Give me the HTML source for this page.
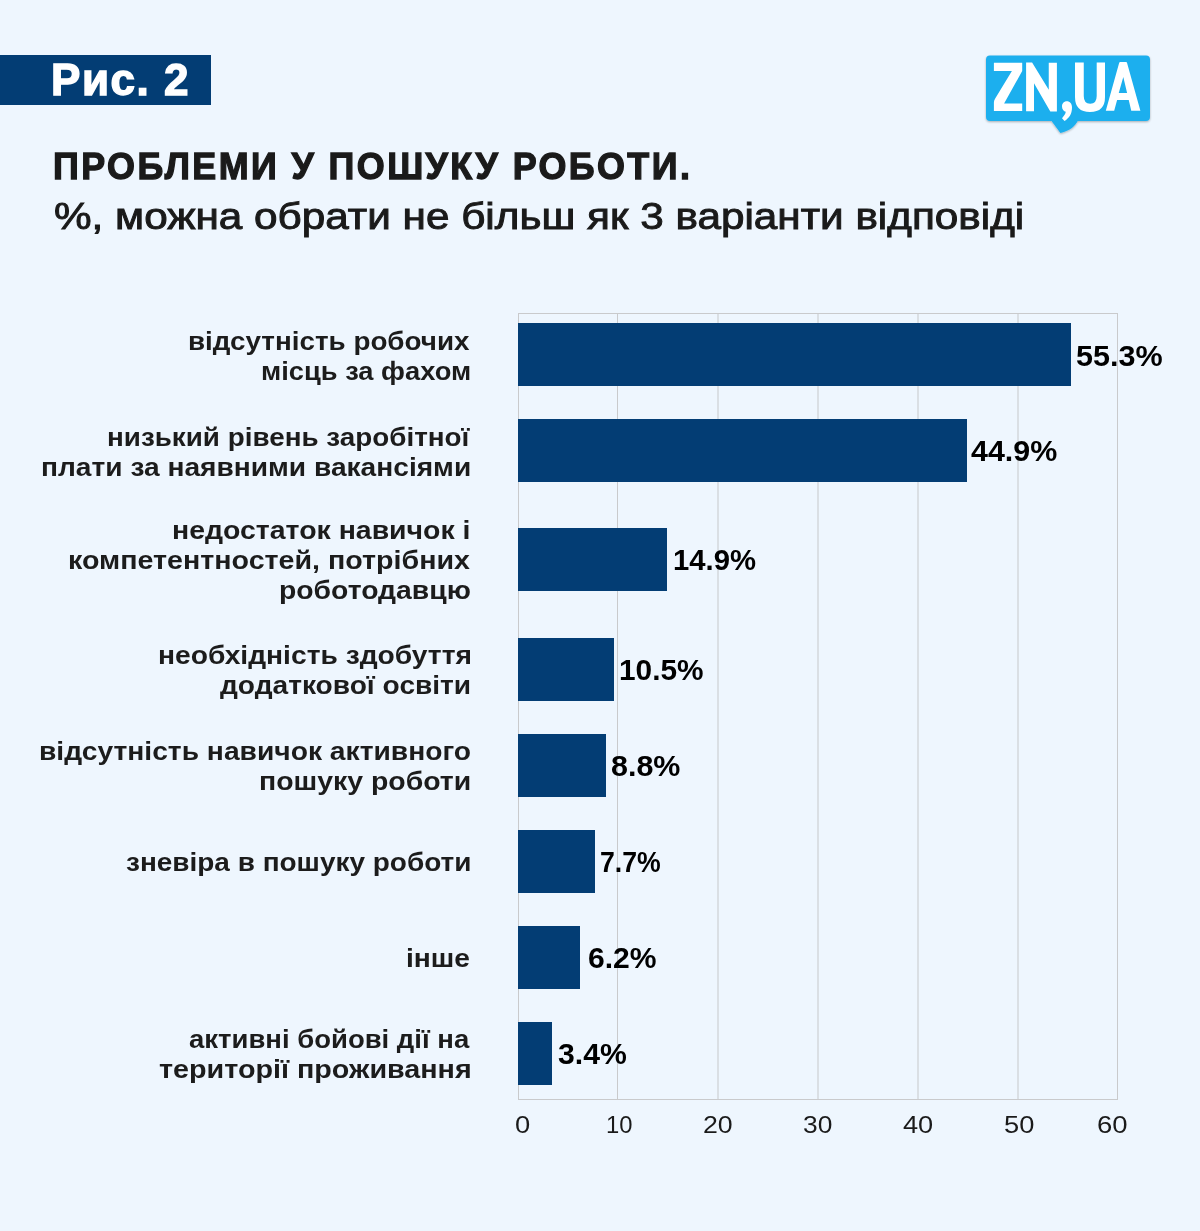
<!DOCTYPE html>
<html><head><meta charset="utf-8">
<style>
html,body{margin:0;padding:0;}
body{width:1200px;height:1231px;background:#EEF6FE;position:relative;overflow:hidden;font-family:"Liberation Sans",sans-serif;}
.g{position:absolute;}
.t{position:absolute;white-space:nowrap;transform-origin:0 0;}
</style></head>
<body>
<div class="g" style="left:0;top:55px;width:211px;height:50px;background:#033D74"></div>
<svg class="g" style="left:0;top:0" width="1200" height="150" viewBox="0 0 1200 150">
  <defs>
    <filter id="sh" x="-10%" y="-10%" width="120%" height="140%">
      <feGaussianBlur in="SourceAlpha" stdDeviation="1.3"/>
      <feOffset dx="0.3" dy="1.3" result="o"/>
      <feComponentTransfer><feFuncA type="linear" slope="0.3"/></feComponentTransfer>
      <feMerge><feMergeNode/><feMergeNode in="SourceGraphic"/></feMerge>
    </filter>
  </defs>
  <g filter="url(#sh)">
    <path fill="#1FAFEE" d="M990,55.5 H1146 Q1150,55.5 1150,59.5 V117 Q1150,121 1146,121 H1077.8 C1075.2,125.8 1070.5,130.6 1060.4,133 L1051.5,121 H990 Q986,121 986,117 V59.5 Q986,55.5 990,55.5 Z"/>
  </g>
  <g fill="#fff">
    <path d="M993.9,62.8 H1022.2 V71 L1004.1,103.5 H1022.2 V111 H993.9 V102.5 Q993.9,100.6 995.2,98.6 L1011.9,71 H993.9 Z"/>
    <path d="M1026.1,62.6 H1032.1 L1048.75,89.7 V62.8 H1056.9 V111.4 H1050.3 L1034,83.3 V111.2 H1026.1 Z"/>
    <path d="M1066.8,101.3 C1064,101.3 1062,103.5 1062,106.5 C1062,109.5 1063.8,111.2 1065.8,111.8 C1065.3,114.5 1063.5,116.5 1062,118.2 L1064.5,121 C1069,118.2 1072,114 1072,107.5 C1072,103.8 1070,101.3 1066.8,101.3 Z"/>
    <path d="M1075,62.5 H1083.75 V96 Q1083.75,103.75 1090.2,103.75 Q1096.7,103.75 1096.7,96 V62.5 H1105 V97 Q1105,112 1090,112 Q1075,112 1075,97 Z"/>
    <path fill-rule="evenodd" d="M1120.2,62 H1126.1 Q1126.8,62 1127,62.8 L1140.4,110.8 H1131.25 L1128.75,100 H1117.1 L1114.2,110.8 H1105.8 L1119.2,62.8 Q1119.5,62 1120.2,62 Z M1123.3,77.1 L1118.75,92.9 H1127.1 Z"/>
  </g>
</svg>
<div class="t" style="left:53.41px;top:144px;font-size:37.5px;line-height:45px;font-weight:bold;color:#1A1A1A;-webkit-text-stroke:1.3px #1A1A1A;letter-spacing:2.5px;transform:scaleX(0.9575)">ПРОБЛЕМИ У ПОШУКУ РОБОТИ.</div>
<div class="t" style="left:54.13px;top:195px;font-size:36px;line-height:43px;font-weight:normal;color:#1A1A1A;-webkit-text-stroke:0.9px #1A1A1A;letter-spacing:0px;transform:scaleX(1.1741)">%, можна обрати не більш як 3 варіанти відповіді</div>
<div class="t" style="left:50.95px;top:53px;font-size:44px;line-height:53px;font-weight:bold;color:#FFFFFF;-webkit-text-stroke:1.4px #FFFFFF;letter-spacing:1.5px;transform:scaleX(1.0012)">Рис. 2</div>
<div class="g" style="left:717px;top:313px;width:2px;height:787px;background:#DADFE4"></div>
<div class="g" style="left:817px;top:313px;width:2px;height:787px;background:#DADFE4"></div>
<div class="g" style="left:917px;top:313px;width:2px;height:787px;background:#DADFE4"></div>
<div class="g" style="left:1017px;top:313px;width:2px;height:787px;background:#DADFE4"></div>
<div class="g" style="left:518px;top:313px;width:1px;height:787px;background:#C9CACC"></div>
<div class="g" style="left:617px;top:313px;width:1px;height:787px;background:#C9CACC"></div>
<div class="g" style="left:1117px;top:313px;width:1px;height:787px;background:#C9CACC"></div>
<div class="g" style="left:518px;top:313px;width:600px;height:1px;background:#C9CACC"></div>
<div class="g" style="left:518px;top:1099px;width:600px;height:1px;background:#C9CACC"></div>
<div class="g" style="left:518px;top:323px;width:553px;height:63px;background:#033D74"></div>
<div class="g" style="left:518px;top:419px;width:449px;height:63px;background:#033D74"></div>
<div class="g" style="left:518px;top:528px;width:149px;height:63px;background:#033D74"></div>
<div class="g" style="left:518px;top:638px;width:96px;height:63px;background:#033D74"></div>
<div class="g" style="left:518px;top:734px;width:88px;height:63px;background:#033D74"></div>
<div class="g" style="left:518px;top:830px;width:77px;height:63px;background:#033D74"></div>
<div class="g" style="left:518px;top:926px;width:62px;height:63px;background:#033D74"></div>
<div class="g" style="left:518px;top:1022px;width:34px;height:63px;background:#033D74"></div>
<div class="t" style="left:188.15px;top:326px;font-size:25.5px;line-height:31px;font-weight:bold;color:#1C1C1C;letter-spacing:0px;transform:scaleX(1.0904)">відсутність робочих</div>
<div class="t" style="left:261.18px;top:356px;font-size:25.5px;line-height:31px;font-weight:bold;color:#1C1C1C;letter-spacing:0px;transform:scaleX(1.0708)">місць за фахом</div>
<div class="t" style="left:106.55px;top:422px;font-size:25.5px;line-height:31px;font-weight:bold;color:#1C1C1C;letter-spacing:0px;transform:scaleX(1.0911)">низький рівень заробітної</div>
<div class="t" style="left:41.12px;top:452px;font-size:25.5px;line-height:31px;font-weight:bold;color:#1C1C1C;letter-spacing:0px;transform:scaleX(1.1030)">плати за наявними вакансіями</div>
<div class="t" style="left:171.80px;top:515px;font-size:25.5px;line-height:31px;font-weight:bold;color:#1C1C1C;letter-spacing:0px;transform:scaleX(1.1151)">недостаток навичок і</div>
<div class="t" style="left:67.79px;top:545px;font-size:25.5px;line-height:31px;font-weight:bold;color:#1C1C1C;letter-spacing:0px;transform:scaleX(1.1221)">компетентностей, потрібних</div>
<div class="t" style="left:278.72px;top:575px;font-size:25.5px;line-height:31px;font-weight:bold;color:#1C1C1C;letter-spacing:0px;transform:scaleX(1.1107)">роботодавцю</div>
<div class="t" style="left:157.52px;top:640px;font-size:25.5px;line-height:31px;font-weight:bold;color:#1C1C1C;letter-spacing:0px;transform:scaleX(1.1060)">необхідність здобуття</div>
<div class="t" style="left:220.19px;top:670px;font-size:25.5px;line-height:31px;font-weight:bold;color:#1C1C1C;letter-spacing:0px;transform:scaleX(1.1025)">додаткової освіти</div>
<div class="t" style="left:38.52px;top:736px;font-size:25.5px;line-height:31px;font-weight:bold;color:#1C1C1C;letter-spacing:0px;transform:scaleX(1.1065)">відсутність навичок активного</div>
<div class="t" style="left:259.11px;top:766px;font-size:25.5px;line-height:31px;font-weight:bold;color:#1C1C1C;letter-spacing:0px;transform:scaleX(1.1145)">пошуку роботи</div>
<div class="t" style="left:125.84px;top:847px;font-size:25.5px;line-height:31px;font-weight:bold;color:#1C1C1C;letter-spacing:0px;transform:scaleX(1.0965)">зневіра в пошуку роботи</div>
<div class="t" style="left:406.02px;top:943px;font-size:25.5px;line-height:31px;font-weight:bold;color:#1C1C1C;letter-spacing:0px;transform:scaleX(1.1057)">інше</div>
<div class="t" style="left:189.05px;top:1024px;font-size:25.5px;line-height:31px;font-weight:bold;color:#1C1C1C;letter-spacing:0px;transform:scaleX(1.0782)">активні бойові дії на</div>
<div class="t" style="left:158.81px;top:1054px;font-size:25.5px;line-height:31px;font-weight:bold;color:#1C1C1C;letter-spacing:0px;transform:scaleX(1.1258)">території проживання</div>
<div class="t" style="left:1076.32px;top:338px;font-size:30px;line-height:36px;font-weight:bold;color:#000000;letter-spacing:0px;transform:scaleX(1.0182)">55.3%</div>
<div class="t" style="left:970.90px;top:433px;font-size:30px;line-height:36px;font-weight:bold;color:#000000;letter-spacing:0px;transform:scaleX(1.0137)">44.9%</div>
<div class="t" style="left:672.87px;top:542px;font-size:30px;line-height:36px;font-weight:bold;color:#000000;letter-spacing:0px;transform:scaleX(0.9751)">14.9%</div>
<div class="t" style="left:618.74px;top:652px;font-size:30px;line-height:36px;font-weight:bold;color:#000000;letter-spacing:0px;transform:scaleX(0.9932)">10.5%</div>
<div class="t" style="left:610.85px;top:748px;font-size:30px;line-height:36px;font-weight:bold;color:#000000;letter-spacing:0px;transform:scaleX(1.0147)">8.8%</div>
<div class="t" style="left:600.37px;top:844px;font-size:30px;line-height:36px;font-weight:bold;color:#000000;letter-spacing:0px;transform:scaleX(0.8878)">7.7%</div>
<div class="t" style="left:587.56px;top:940px;font-size:30px;line-height:36px;font-weight:bold;color:#000000;letter-spacing:0px;transform:scaleX(1.0027)">6.2%</div>
<div class="t" style="left:558.13px;top:1036px;font-size:30px;line-height:36px;font-weight:bold;color:#000000;letter-spacing:0px;transform:scaleX(1.0061)">3.4%</div>
<div class="t" style="left:515.45px;top:1111px;font-size:23px;line-height:28px;font-weight:normal;color:#1A1A1A;letter-spacing:0px;transform:scaleX(1.1892)">0</div>
<div class="t" style="left:605.84px;top:1111px;font-size:23px;line-height:28px;font-weight:normal;color:#1A1A1A;letter-spacing:0px;transform:scaleX(1.0352)">10</div>
<div class="t" style="left:702.72px;top:1111px;font-size:23px;line-height:28px;font-weight:normal;color:#1A1A1A;letter-spacing:0px;transform:scaleX(1.1614)">20</div>
<div class="t" style="left:803.38px;top:1111px;font-size:23px;line-height:28px;font-weight:normal;color:#1A1A1A;letter-spacing:0px;transform:scaleX(1.1469)">30</div>
<div class="t" style="left:903.21px;top:1111px;font-size:23px;line-height:28px;font-weight:normal;color:#1A1A1A;letter-spacing:0px;transform:scaleX(1.1822)">40</div>
<div class="t" style="left:1003.53px;top:1111px;font-size:23px;line-height:28px;font-weight:normal;color:#1A1A1A;letter-spacing:0px;transform:scaleX(1.1853)">50</div>
<div class="t" style="left:1097.49px;top:1111px;font-size:23px;line-height:28px;font-weight:normal;color:#1A1A1A;letter-spacing:0px;transform:scaleX(1.1953)">60</div>
</body></html>
